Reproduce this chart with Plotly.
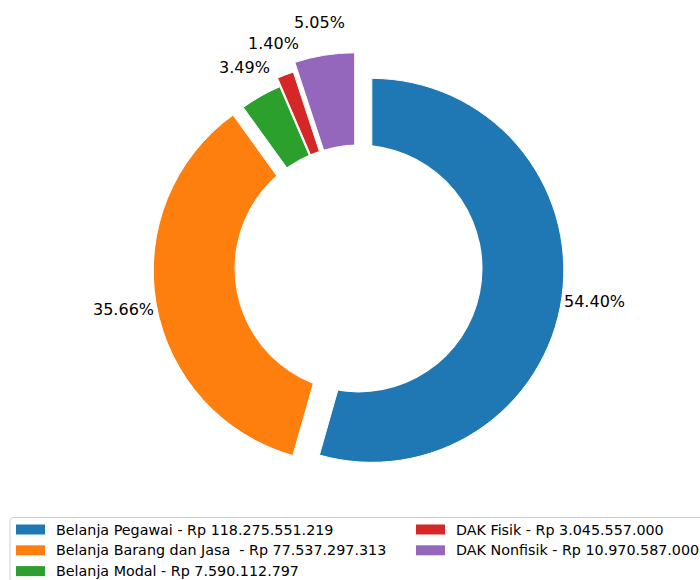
import math
import plotly.graph_objects as go

# ---- data ----
categories = ["Belanja Pegawai", "Belanja Barang dan Jasa ", "Belanja Modal", "DAK Fisik", "DAK Nonfisik"]
amounts = [118275551219, 77537297313, 7590112797, 3045557000, 10970587000]
colors = ["#1f77b4", "#ff7f0e", "#2ca02c", "#d62728", "#9467bd"]
pulls = [0.07, 0.07, 0.032, 0.078, 0.125]

# ---- geometry (pixels) ----
W, H = 700, 580
OX, OY = 358.5, 268.5      # pie origin
R = 192.0                  # outer radius
HOLE_R = 124.0             # white centre circle radius
LABEL_DIST = 1.172         # label distance (fraction of R) from slice centre
FONT = "DejaVu Sans"

maxpull = max(pulls)
half = R * (1 + maxpull)
dom_x = [(OX - half) / W, (OX + half) / W]
dom_y = [1 - (OY + half) / H, 1 - (OY - half) / H]


def fmt_rp(v):
    return f"{v:,}".replace(",", ".")


legend_labels = [f"{c} - Rp {fmt_rp(a)}" for c, a in zip(categories, amounts)]

fig = go.Figure(go.Pie(
    labels=legend_labels,
    values=amounts,
    sort=False,
    direction="clockwise",
    rotation=0,
    pull=pulls,
    marker=dict(colors=colors, line=dict(color="white", width=1)),
    textinfo="none",
    hoverinfo="label+percent",
    showlegend=False,
    domain=dict(x=dom_x, y=dom_y),
))

def px2paper(x, y):
    return x / W, 1 - y / H

shapes = []
annotations = []

# white centre circle (donut hole drawn over the exploded wedges)
x0, y0 = px2paper(OX - HOLE_R, OY - HOLE_R)
x1, y1 = px2paper(OX + HOLE_R, OY + HOLE_R)
shapes.append(dict(type="circle", xref="paper", yref="paper",
                   x0=x0, x1=x1, y0=y1, y1=y0,
                   fillcolor="white", line=dict(width=0), layer="above"))

# percentage labels
total = sum(amounts)
cum = 0.0
for a, p in zip(amounts, pulls):
    frac = a / total
    mid = (cum + frac / 2) * 2 * math.pi
    cum += frac
    dx, dy = math.sin(mid), -math.cos(mid)  # screen coords (y down)
    cx = OX + p * R * dx
    cy = OY + p * R * dy
    lx = cx + LABEL_DIST * R * dx
    ly = cy + LABEL_DIST * R * dy
    ax, ay = px2paper(lx, ly)
    annotations.append(dict(x=ax, y=ay, xref="paper", yref="paper",
                            text=f"{frac * 100:.2f}%", showarrow=False,
                            xanchor="center", yanchor="middle",
                            font=dict(family=FONT, size=16, color="black")))

# legend (two columns, column-major like the reference)
LX0, LY0 = 10, 517.5
def P(x, y):
    a, b = px2paper(x, y)
    return f"{a:.5f},{b:.5f}"
frame = (f"M {P(LX0, 600)} L {P(LX0, LY0 + 4)} Q {P(LX0, LY0)} {P(LX0 + 4, LY0)} "
         f"L {P(720, LY0)}")
shapes.append(dict(type="path", xref="paper", yref="paper", path=frame,
                   line=dict(color="#cccccc", width=1), fillcolor="rgba(255,255,255,0.8)",
                   layer="above"))

row_y = [529.5, 550.3, 571.1]
col_x = [16, 416]
n_rows = 3
for i, (lab, col) in enumerate(zip(legend_labels, colors)):
    c, r = divmod(i, n_rows)
    px0 = col_x[c]
    py = row_y[r]
    a0, b0 = px2paper(px0, py - 5)
    a1, b1 = px2paper(px0 + 29, py + 5)
    shapes.append(dict(type="rect", xref="paper", yref="paper",
                       x0=a0, x1=a1, y0=b1, y1=b0,
                       fillcolor=col, line=dict(width=0), layer="above"))
    tx, ty = px2paper(px0 + 38, py)
    annotations.append(dict(x=tx, y=ty, xref="paper", yref="paper",
                            text=lab.replace("  ", "&nbsp; "), showarrow=False,
                            xanchor="left", yanchor="middle",
                            font=dict(family=FONT, size=14.3, color="black")))

fig.update_layout(
    width=W, height=H,
    margin=dict(l=0, r=0, t=0, b=0),
    paper_bgcolor="white",
    plot_bgcolor="white",
    showlegend=False,
    shapes=shapes,
    annotations=annotations,
    font=dict(family=FONT),
)

fig.write_html("out.html",
               config={"displayModeBar": False},
               post_script="document.body.style.margin='0';document.body.style.overflow='hidden';")
